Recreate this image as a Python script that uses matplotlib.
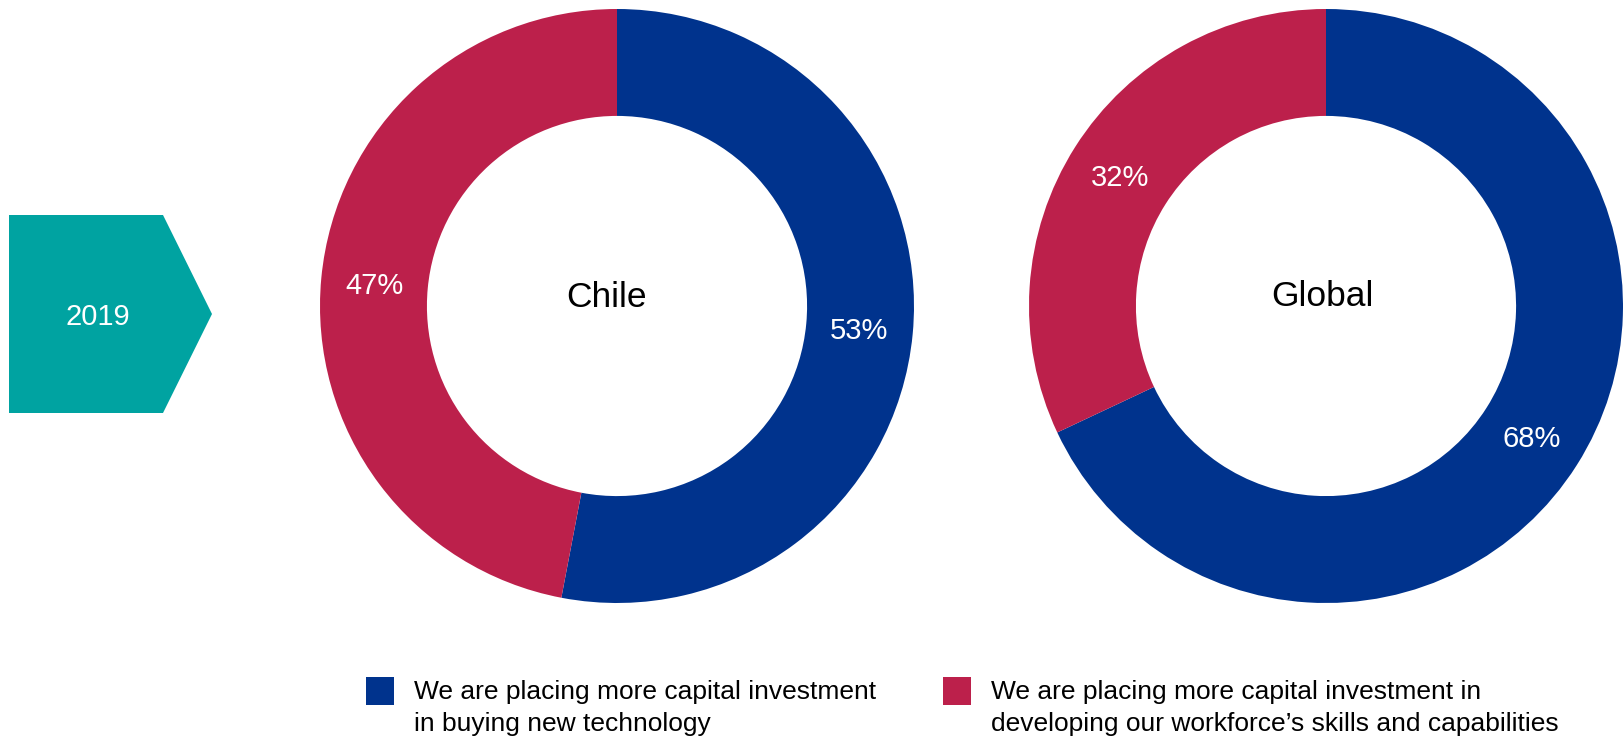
import matplotlib

matplotlib.use("Agg")
import matplotlib.pyplot as plt
from matplotlib.patches import Polygon, Rectangle

# --- data ---------------------------------------------------------------
YEAR = "2019"
REGIONS = ["Chile", "Global"]
TECH_SHARE = [53, 68]        # buying new technology
WORKFORCE_SHARE = [47, 32]   # developing workforce skills
SERIES_LINES = [
    ["We are placing more capital investment", "in buying new technology"],
    ["We are placing more capital investment in",
     "developing our workforce\u2019s skills and capabilities"],
]

BLUE = "#00338D"
CRIMSON = "#BC204B"
TEAL = "#00A3A1"

plt.rcParams["font.family"] = ["Liberation Sans", "DejaVu Sans"]

W, H = 1623, 738
fig = plt.figure(figsize=(W / 100, H / 100), dpi=100)

# full-figure overlay in pixel coordinates (y down) for decoration
bg = fig.add_axes([0, 0, 1, 1])
bg.set_xlim(0, W)
bg.set_ylim(H, 0)
bg.axis("off")

# year arrow
arrow = Polygon([(9, 215), (163, 215), (212, 314), (163, 413), (9, 413)],
                closed=True, facecolor=TEAL, edgecolor="none")
bg.add_patch(arrow)
bg.text(98, 325, YEAR, color="white", fontsize=21, ha="center", va="baseline")

# donuts
R = 297
LABEL_PT = 21
centers = [(617, 306), (1326, 306)]
title_pos = [(607, 307), (1322, 306)]
for i, region in enumerate(REGIONS):
    cx, cy = centers[i]
    ax = fig.add_axes([(cx - R) / W, (H - cy - R) / H, 2 * R / W, 2 * R / H])
    _, _, autotexts = ax.pie(
        [TECH_SHARE[i], WORKFORCE_SHARE[i]],
        colors=[BLUE, CRIMSON],
        startangle=90,
        counterclock=False,
        radius=1.0,
        wedgeprops=dict(width=0.36, edgecolor="none"),
        autopct="%.0f%%",
        pctdistance=0.82,
        textprops=dict(color="white", fontsize=LABEL_PT),
    )
    # centre the digits (cap height) on the ring midpoint
    half_cap = 0.358 * LABEL_PT * 100 / 72 / R
    for t in autotexts:
        x, y = t.get_position()
        t.set_va("baseline")
        t.set_position((x, y - half_cap))
    ax.set_xlim(-1, 1)
    ax.set_ylim(-1, 1)
    ax.set_aspect("equal")
    ax.axis("off")
    tx, ty = title_pos[i]
    bg.text(tx, ty, region, fontsize=25.5, ha="center", va="baseline",
            color="black")

# legend
sq_x = [366, 943]
txt_x = [414, 991]
for i, lines in enumerate(SERIES_LINES):
    bg.add_patch(Rectangle((sq_x[i], 677), 28, 28,
                           facecolor=[BLUE, CRIMSON][i], edgecolor="none"))
    for j, line in enumerate(lines):
        bg.text(txt_x[i], 699 + 32 * j, line, fontsize=19,
                ha="left", va="baseline", color="black")

fig.savefig("out.png", dpi=100, facecolor="white")
